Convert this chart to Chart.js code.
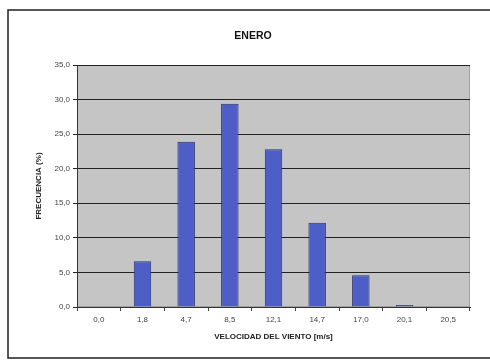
<!DOCTYPE html>
<html>
<head>
<meta charset="utf-8">
<script src="https://cdn.jsdelivr.net/npm/chart.js@4/dist/chart.umd.min.js"></script>
<style>
  html, body { margin: 0; padding: 0; background: #ffffff; }
  #wrap { position: relative; width: 490px; height: 360px; }
</style>
</head>
<body>
<div id="wrap"><canvas id="c" width="490" height="360"></canvas></div>
<script>
// Wind speed classes (m/s) and frequency (%) for January
const titulo = 'ENERO';
const velocidades = ['0,0', '1,8', '4,7', '8,5', '12,1', '14,7', '17,0', '20,1', '20,5'];
const frecuencias = [0, 6.6, 23.9, 29.4, 22.8, 12.2, 4.6, 0.3, 0];
const yTicks = [0, 5, 10, 15, 20, 25, 30, 35];

const fmt = v => v.toFixed(1).replace('.', ',');

// Grey plot background, outer frame and the chart heading
const frame = {
  id: 'frame',
  beforeDraw(chart) {
    const { ctx, chartArea: a } = chart;
    ctx.save();
    ctx.fillStyle = '#c5c5c5';
    ctx.fillRect(a.left, a.top, a.right - a.left, a.bottom - a.top);
    ctx.strokeStyle = '#a0a0a0';
    ctx.lineWidth = 1;
    ctx.strokeRect(a.left + 0.5, a.top + 0.5, a.right - a.left - 1, a.bottom - a.top - 1);
    ctx.strokeStyle = '#222';
    ctx.lineWidth = 1.5;
    ctx.beginPath();
    ctx.moveTo(490, 10);
    ctx.lineTo(8, 10);
    ctx.lineTo(8, 358);
    ctx.lineTo(490, 358);
    ctx.stroke();
    ctx.fillStyle = '#111';
    ctx.font = 'bold 10.5px "Liberation Sans"';
    ctx.textAlign = 'center';
    ctx.textBaseline = 'middle';
    ctx.fillText(titulo, 253, 36);
    ctx.restore();
  }
};

new Chart(document.getElementById('c'), {
  type: 'bar',
  data: {
    labels: velocidades,
    datasets: [{
      data: frecuencias,
      backgroundColor: '#4d5ec6',
      borderColor: '#2b2f6e',
      borderWidth: 1,
      barPercentage: 0.4,
      categoryPercentage: 1.0
    }]
  },
  options: {
    responsive: false,
    animation: false,
    devicePixelRatio: 1,
    layout: { padding: { left: 10, right: 20, top: 65, bottom: 0 } },
    plugins: {
      legend: { display: false },
      tooltip: { enabled: false },
      title: { display: false }
    },
    scales: {
      x: {
        afterFit(s) { s.height = 53; },
        grid: { display: true, drawOnChartArea: false, drawTicks: true, offset: true, tickLength: 4, color: '#444' },
        border: { color: '#333', width: 1 },
        ticks: { color: '#444', font: { family: 'Liberation Sans', size: 8 }, padding: 4, maxRotation: 0 },
        title: {
          display: true,
          text: 'VELOCIDAD DEL VIENTO [m/s]',
          color: '#222',
          font: { family: 'Liberation Sans', size: 8, weight: 'bold' },
          padding: { top: 0, bottom: 18 }
        }
      },
      y: {
        min: 0,
        max: 35,
        afterFit(s) { s.width = 67; },
        afterBuildTicks(s) { s.ticks = yTicks.map(v => ({ value: v })); },
        grid: { color: '#222', lineWidth: 1, tickLength: 4 },
        border: { color: '#333', width: 1 },
        ticks: { color: '#444', font: { family: 'Liberation Sans', size: 8 }, padding: 3, callback: v => fmt(v) },
        title: {
          display: true,
          text: 'FRECUENCIA (%)',
          color: '#222',
          font: { family: 'Liberation Sans', size: 8, weight: 'bold' },
          padding: { top: 24, bottom: 0 }
        }
      }
    }
  },
  plugins: [frame]
});
</script>
</body>
</html>
